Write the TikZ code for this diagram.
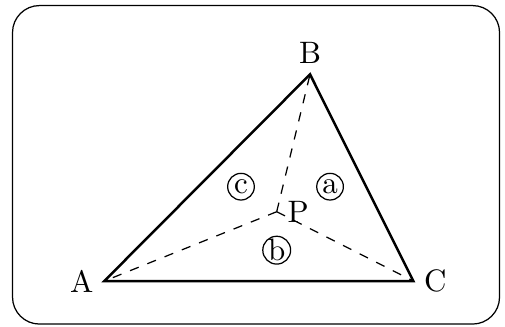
\documentclass[tikz,border=0pt]{standalone}
\usetikzlibrary{positioning}

\begin{document}
\begin{tikzpicture}%
  [frame/.style=
    {draw,rounded corners=8.7pt},
   side/.style={thick},
   spoke/.style={dashed},
   region/.style=
    {draw,circle,inner sep=0pt,minimum size=8.6pt}
  ]
  \useasboundingbox (-1.183,-0.510) rectangle (4.544,3.187);
  \draw[frame] (-1.041,-0.488) rectangle (4.482,3.124);
  \coordinate (A) at (0,0);
  \coordinate (B) at (2.333,2.344);
  \coordinate (C) at (3.504,0);
  \coordinate (P) at (1.955,0.786);
  \node[left=0pt of A] (lA) {A};
  \node[above=0pt of B] (lB) {B};
  \node[right=0pt of C] (lC) {C};
  \node[right=0pt of P] (lP) {P};
  \draw[side] (A) -- (B) -- (C) -- cycle;
  \draw[spoke] (P) -- (A);
  \draw[spoke] (P) -- (B);
  \draw[spoke] (P) -- (C);
  \node[region] (ra) at (2.56,1.07) {a};
  \node[region] (rb) at (1.955,0.35) {b};
  \node[region] (rc) at (1.55,1.07) {c};
\end{tikzpicture}
\end{document}
